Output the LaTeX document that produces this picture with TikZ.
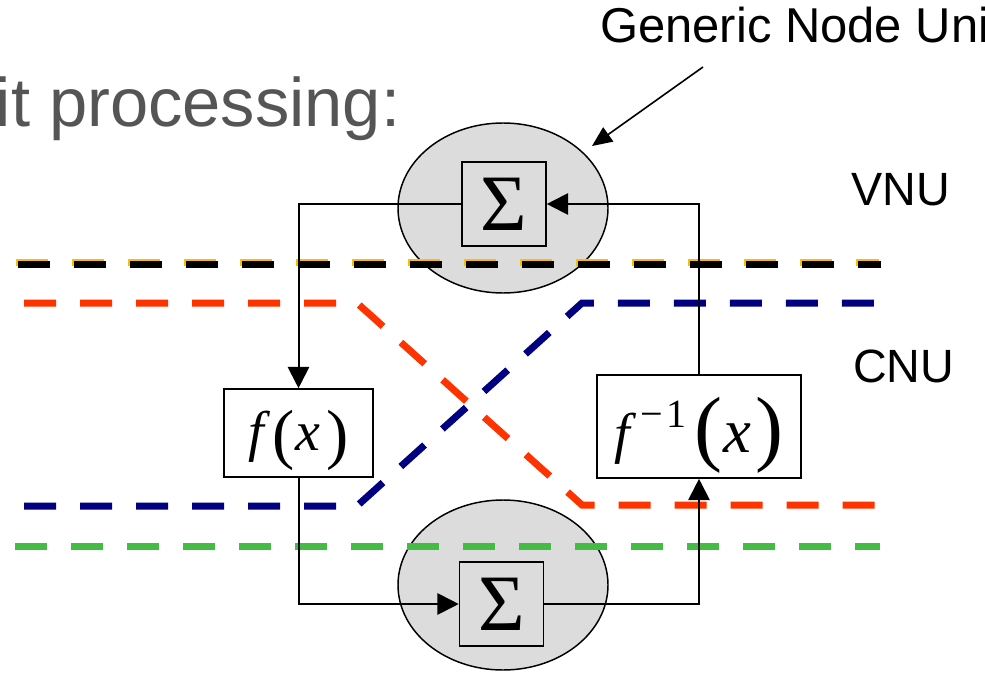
\documentclass[tikz,border=0pt]{standalone}
\usepackage{fontspec}
\setmainfont{Liberation Sans}
\newfontfamily\tms{Liberation Serif}
\usetikzlibrary{shapes.geometric,arrows.meta}
\definecolor{dred}{HTML}{FF3300}
\definecolor{dnavy}{HTML}{000080}
\definecolor{dgreen}{HTML}{44BB44}
\definecolor{dyel}{HTML}{F5C000}
\definecolor{tgray}{HTML}{555555}
\definecolor{egray}{HTML}{DCDCDC}
\newcommand\myLPa{\raisebox{-4.5pt}{\fontsize{50}{50}\selectfont(}}
\newcommand\myRPa{\raisebox{-4.5pt}{\fontsize{50}{50}\selectfont)}}
\newcommand\myLPb{\raisebox{-2.25pt}{\fontsize{63}{63}\selectfont(}}
\newcommand\myRPb{\raisebox{-2.25pt}{\fontsize{63}{63}\selectfont)}}
\tikzset{
  unit/.style={ellipse, draw=black, line width=1.1pt, fill=egray, minimum width=157.5pt, minimum height=127.5pt, inner sep=0pt},
  sigbox/.style={draw=black, line width=1.2pt, minimum size=63pt, inner sep=0pt, font=\tms\fontsize{60}{60}\selectfont},
  funcbox/.style={draw=black, line width=1.2pt, fill=white, inner sep=0pt, font=\tms\fontsize{42}{42}\selectfont},
  dl/.style={line width=5.25pt, dash pattern=on 24pt off 18pt},
  conn/.style={line width=1.5pt, -{Triangle[length=16pt,width=16pt]}},
  lbl/.style={anchor=base west, inner sep=0pt}
}
\begin{document}
\begin{tikzpicture}[x=0.75pt,y=-0.75pt]
\path[use as bounding box] (0,0) rectangle (985,674);
\clip (0,0) rectangle (985,674);
% units
\node[unit] (top) at (503,208) {};
\node[unit] (bot) at (503,585) {};
% dashed message lines
\draw[dl, dyel] (16,262.7) -- (879,262.7);
\draw[dl, black] (18,264) -- (881,264);
\draw[dl, dred] (24,303) -- (357,303) -- (582,505) -- (876,505);
\draw[dl, dnavy] (24,506) -- (357,506) -- (582,303) -- (875,303);
\draw[dl, dgreen] (15,546) -- (880,546);
% boxes
\node[sigbox] (tsig) at (504,204) {Σ};
\node[sigbox] (bsig) at (501.5,604) {Σ};
\node[funcbox, minimum width=111.75pt, minimum height=66pt, text height=30pt, text depth=4.5pt] (fx) at (298.5,433) {{\itshape f}\kern6pt\myLPa\kern1pt{\itshape x}\kern4pt\myRPa};
\node[funcbox, minimum width=153pt, minimum height=77.25pt, text height=42.75pt, text depth=4.5pt] (finv) at (699,426.5) {{\itshape f}\kern8pt\raisebox{18.75pt}{\fontsize{30}{30}\selectfont −\kern2pt 1}\kern6pt\myLPb\kern1pt{\fontsize{47}{47}\selectfont\itshape x}\kern3pt\myRPb};
% connectors
\draw[conn] (tsig.west) -| (fx.north);
\draw[conn] (fx.south) |- (bsig.west);
\draw[conn] (bsig.east) -| (finv.south);
\draw[conn] (finv.north) |- (tsig.east);
% labels
\node[lbl, text=tgray, font=\fontsize{51.5}{60}\selectfont] (title) at (-4.5,127) {it processing:};
\node[lbl, font=\fontsize{36.7}{42}\selectfont] (gnu) at (600,43) {Generic Node Unit};
\node[lbl, font=\fontsize{35}{40}\selectfont] (vnu) at (851,205) {VNU};
\node[lbl, font=\fontsize{35}{40}\selectfont] (cnu) at (853,382) {CNU};
\coordinate (gs) at (703,67);
\coordinate (gt) at (592,146);
\draw[line width=1.2pt, -{Triangle[length=15pt,width=13pt]}] (gs) -- (gt);
\end{tikzpicture}
\end{document}
